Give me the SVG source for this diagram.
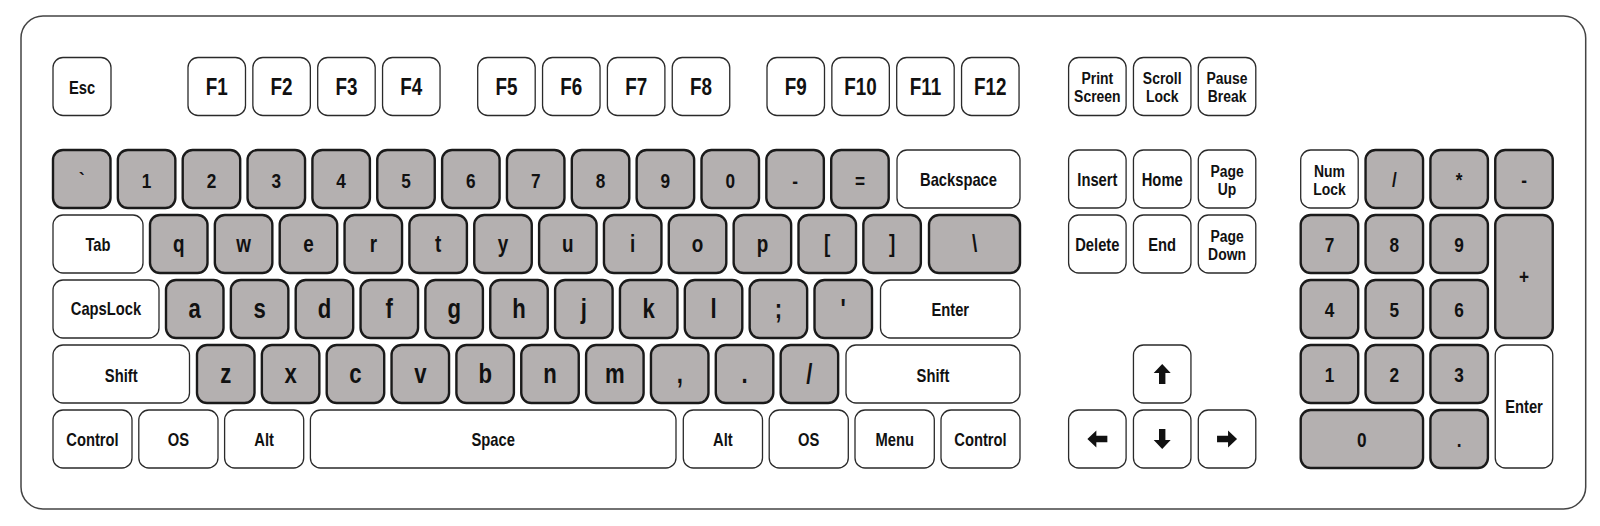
<svg xmlns="http://www.w3.org/2000/svg" width="1600" height="526" viewBox="0 0 1600 526">
<style>
.kw{fill:#fff;stroke:#2a2a2a;stroke-width:1.3}
.kg{fill:#b4b0b0;stroke:#1a1a1a;stroke-width:2.4}
text{font-family:"Liberation Sans Narrow","Liberation Sans",Arial,sans-serif;font-weight:bold;text-anchor:middle;fill:#111}
.w{font-size:18px}
.w2{font-size:17px}
.f{font-size:23px}
.d{font-size:21px}
.l{font-size:23px}
.L{font-size:27px}
.ar{fill:#111}
</style>
<defs>
<path id="arr" d="M0,-10 L8.5,-1 L3.2,-1 L3.2,10 L-3.2,10 L-3.2,-1 L-8.5,-1 Z"/>
</defs>
<rect id="case" x="21" y="16" width="1564.7" height="493" rx="22" fill="#fff" stroke="#444" stroke-width="1.5"/>
<g id="connectors"/>
<!-- Function row -->
<g id="k-esc"><rect class="kw" x="53" y="57.5" width="58" height="58" rx="10"/><text class="w" transform="matrix(.82 0 0 1 82 93.5)">Esc</text></g>
<g id="k-f1"><rect class="kw" x="188" y="57.5" width="57.5" height="58" rx="10"/><text class="f" transform="matrix(.82 0 0 1 216.75 94.8)">F1</text></g>
<g id="k-f2"><rect class="kw" x="252.85" y="57.5" width="57.5" height="58" rx="10"/><text class="f" transform="matrix(.82 0 0 1 281.6 94.8)">F2</text></g>
<g id="k-f3"><rect class="kw" x="317.7" y="57.5" width="57.5" height="58" rx="10"/><text class="f" transform="matrix(.82 0 0 1 346.45 94.8)">F3</text></g>
<g id="k-f4"><rect class="kw" x="382.55" y="57.5" width="57.5" height="58" rx="10"/><text class="f" transform="matrix(.82 0 0 1 411.3 94.8)">F4</text></g>
<g id="k-f5"><rect class="kw" x="477.7" y="57.5" width="57.5" height="58" rx="10"/><text class="f" transform="matrix(.82 0 0 1 506.45 94.8)">F5</text></g>
<g id="k-f6"><rect class="kw" x="542.55" y="57.5" width="57.5" height="58" rx="10"/><text class="f" transform="matrix(.82 0 0 1 571.3 94.8)">F6</text></g>
<g id="k-f7"><rect class="kw" x="607.4" y="57.5" width="57.5" height="58" rx="10"/><text class="f" transform="matrix(.82 0 0 1 636.15 94.8)">F7</text></g>
<g id="k-f8"><rect class="kw" x="672.25" y="57.5" width="57.5" height="58" rx="10"/><text class="f" transform="matrix(.82 0 0 1 701 94.8)">F8</text></g>
<g id="k-f9"><rect class="kw" x="767" y="57.5" width="57.5" height="58" rx="10"/><text class="f" transform="matrix(.82 0 0 1 795.75 94.8)">F9</text></g>
<g id="k-f10"><rect class="kw" x="831.85" y="57.5" width="57.5" height="58" rx="10"/><text class="f" transform="matrix(.82 0 0 1 860.6 94.8)">F10</text></g>
<g id="k-f11"><rect class="kw" x="896.7" y="57.5" width="57.5" height="58" rx="10"/><text class="f" transform="matrix(.82 0 0 1 925.45 94.8)">F11</text></g>
<g id="k-f12"><rect class="kw" x="961.55" y="57.5" width="57.5" height="58" rx="10"/><text class="f" transform="matrix(.82 0 0 1 990.3 94.8)">F12</text></g>
<!-- Number row -->
<g id="k-grave"><rect class="kg" x="53" y="150" width="57.5" height="58" rx="10"/><text class="d" transform="matrix(.82 0 0 1 81.75 187)">`</text></g>
<g id="k-1"><rect class="kg" x="117.85" y="150" width="57.5" height="58" rx="10"/><text class="d" transform="matrix(.82 0 0 1 146.6 187.5)">1</text></g>
<g id="k-2"><rect class="kg" x="182.7" y="150" width="57.5" height="58" rx="10"/><text class="d" transform="matrix(.82 0 0 1 211.45 187.5)">2</text></g>
<g id="k-3"><rect class="kg" x="247.55" y="150" width="57.5" height="58" rx="10"/><text class="d" transform="matrix(.82 0 0 1 276.3 187.5)">3</text></g>
<g id="k-4"><rect class="kg" x="312.4" y="150" width="57.5" height="58" rx="10"/><text class="d" transform="matrix(.82 0 0 1 341.15 187.5)">4</text></g>
<g id="k-5"><rect class="kg" x="377.25" y="150" width="57.5" height="58" rx="10"/><text class="d" transform="matrix(.82 0 0 1 406 187.5)">5</text></g>
<g id="k-6"><rect class="kg" x="442.1" y="150" width="57.5" height="58" rx="10"/><text class="d" transform="matrix(.82 0 0 1 470.85 187.5)">6</text></g>
<g id="k-7"><rect class="kg" x="506.95" y="150" width="57.5" height="58" rx="10"/><text class="d" transform="matrix(.82 0 0 1 535.7 187.5)">7</text></g>
<g id="k-8"><rect class="kg" x="571.8" y="150" width="57.5" height="58" rx="10"/><text class="d" transform="matrix(.82 0 0 1 600.55 187.5)">8</text></g>
<g id="k-9"><rect class="kg" x="636.65" y="150" width="57.5" height="58" rx="10"/><text class="d" transform="matrix(.82 0 0 1 665.4 187.5)">9</text></g>
<g id="k-0"><rect class="kg" x="701.5" y="150" width="57.5" height="58" rx="10"/><text class="d" transform="matrix(.82 0 0 1 730.25 187.5)">0</text></g>
<g id="k-minus"><rect class="kg" x="766.35" y="150" width="57.5" height="58" rx="10"/><text class="d" transform="matrix(.82 0 0 1 795.1 187.5)">-</text></g>
<g id="k-equal"><rect class="kg" x="831.2" y="150" width="57.5" height="58" rx="10"/><text class="d" transform="matrix(.82 0 0 1 859.95 187.5)">=</text></g>
<g id="k-backspace"><rect class="kw" x="897" y="150" width="123" height="58" rx="10"/><text class="w" transform="matrix(.82 0 0 1 958.5 186)">Backspace</text></g>
<!-- Tab row -->
<g id="k-tab"><rect class="kw" x="53" y="215" width="90" height="58" rx="10"/><text class="w" transform="matrix(.82 0 0 1 98 251)">Tab</text></g>
<g id="k-q"><rect class="kg" x="150" y="215" width="57.5" height="58" rx="10"/><text class="l" transform="matrix(.82 0 0 1 178.75 252.3)">q</text></g>
<g id="k-w"><rect class="kg" x="214.85" y="215" width="57.5" height="58" rx="10"/><text class="l" transform="matrix(.82 0 0 1 243.6 252.3)">w</text></g>
<g id="k-e"><rect class="kg" x="279.7" y="215" width="57.5" height="58" rx="10"/><text class="l" transform="matrix(.82 0 0 1 308.45 252.3)">e</text></g>
<g id="k-r"><rect class="kg" x="344.55" y="215" width="57.5" height="58" rx="10"/><text class="l" transform="matrix(.82 0 0 1 373.3 252.3)">r</text></g>
<g id="k-t"><rect class="kg" x="409.4" y="215" width="57.5" height="58" rx="10"/><text class="l" transform="matrix(.82 0 0 1 438.15 252.3)">t</text></g>
<g id="k-y"><rect class="kg" x="474.25" y="215" width="57.5" height="58" rx="10"/><text class="l" transform="matrix(.82 0 0 1 503 252.3)">y</text></g>
<g id="k-u"><rect class="kg" x="539.1" y="215" width="57.5" height="58" rx="10"/><text class="l" transform="matrix(.82 0 0 1 567.85 252.3)">u</text></g>
<g id="k-i"><rect class="kg" x="603.95" y="215" width="57.5" height="58" rx="10"/><text class="l" transform="matrix(.82 0 0 1 632.7 252.3)">i</text></g>
<g id="k-o"><rect class="kg" x="668.8" y="215" width="57.5" height="58" rx="10"/><text class="l" transform="matrix(.82 0 0 1 697.55 252.3)">o</text></g>
<g id="k-p"><rect class="kg" x="733.65" y="215" width="57.5" height="58" rx="10"/><text class="l" transform="matrix(.82 0 0 1 762.4 252.3)">p</text></g>
<g id="k-lbracket"><rect class="kg" x="798.5" y="215" width="57.5" height="58" rx="10"/><text class="l" transform="matrix(.82 0 0 1 827.25 252.3)">[</text></g>
<g id="k-rbracket"><rect class="kg" x="863.35" y="215" width="57.5" height="58" rx="10"/><text class="l" transform="matrix(.82 0 0 1 892.1 252.3)">]</text></g>
<g id="k-backslash"><rect class="kg" x="929" y="215" width="91" height="58" rx="10"/><text class="l" transform="matrix(.82 0 0 1 974.5 252.3)">\</text></g>
<!-- Caps row -->
<g id="k-capslock"><rect class="kw" x="53" y="280" width="106" height="58" rx="10"/><text class="w" transform="matrix(.82 0 0 1 106 315)">CapsLock</text></g>
<g id="k-a"><rect class="kg" x="166" y="280" width="57.5" height="58" rx="10"/><text class="L" transform="matrix(.82 0 0 1 194.75 318.3)">a</text></g>
<g id="k-s"><rect class="kg" x="230.85" y="280" width="57.5" height="58" rx="10"/><text class="L" transform="matrix(.82 0 0 1 259.6 318.3)">s</text></g>
<g id="k-d"><rect class="kg" x="295.7" y="280" width="57.5" height="58" rx="10"/><text class="L" transform="matrix(.82 0 0 1 324.45 318.3)">d</text></g>
<g id="k-f"><rect class="kg" x="360.55" y="280" width="57.5" height="58" rx="10"/><text class="L" transform="matrix(.82 0 0 1 389.3 318.3)">f</text></g>
<g id="k-g"><rect class="kg" x="425.4" y="280" width="57.5" height="58" rx="10"/><text class="L" transform="matrix(.82 0 0 1 454.15 318.3)">g</text></g>
<g id="k-h"><rect class="kg" x="490.25" y="280" width="57.5" height="58" rx="10"/><text class="L" transform="matrix(.82 0 0 1 519 318.3)">h</text></g>
<g id="k-j"><rect class="kg" x="555.1" y="280" width="57.5" height="58" rx="10"/><text class="L" transform="matrix(.82 0 0 1 583.85 318.3)">j</text></g>
<g id="k-k"><rect class="kg" x="619.95" y="280" width="57.5" height="58" rx="10"/><text class="L" transform="matrix(.82 0 0 1 648.7 318.3)">k</text></g>
<g id="k-l"><rect class="kg" x="684.8" y="280" width="57.5" height="58" rx="10"/><text class="L" transform="matrix(.82 0 0 1 713.55 318.3)">l</text></g>
<g id="k-semicolon"><rect class="kg" x="749.65" y="280" width="57.5" height="58" rx="10"/><text class="L" transform="matrix(.82 0 0 1 778.4 318.3)">;</text></g>
<g id="k-quote"><rect class="kg" x="814.5" y="280" width="57.5" height="58" rx="10"/><text class="L" transform="matrix(.82 0 0 1 843.25 318.3)">'</text></g>
<g id="k-enter"><rect class="kw" x="880.5" y="280" width="139.5" height="58" rx="10"/><text class="w" transform="matrix(.82 0 0 1 950.25 316)">Enter</text></g>
<!-- Shift row -->
<g id="k-lshift"><rect class="kw" x="53" y="345" width="136.5" height="58" rx="10"/><text class="w" transform="matrix(.82 0 0 1 121.25 381.5)">Shift</text></g>
<g id="k-z"><rect class="kg" x="197" y="345" width="57.5" height="58" rx="10"/><text class="L" transform="matrix(.82 0 0 1 225.75 382.7)">z</text></g>
<g id="k-x"><rect class="kg" x="261.85" y="345" width="57.5" height="58" rx="10"/><text class="L" transform="matrix(.82 0 0 1 290.6 382.7)">x</text></g>
<g id="k-c"><rect class="kg" x="326.7" y="345" width="57.5" height="58" rx="10"/><text class="L" transform="matrix(.82 0 0 1 355.45 382.7)">c</text></g>
<g id="k-v"><rect class="kg" x="391.55" y="345" width="57.5" height="58" rx="10"/><text class="L" transform="matrix(.82 0 0 1 420.3 382.7)">v</text></g>
<g id="k-b"><rect class="kg" x="456.4" y="345" width="57.5" height="58" rx="10"/><text class="L" transform="matrix(.82 0 0 1 485.15 382.7)">b</text></g>
<g id="k-n"><rect class="kg" x="521.25" y="345" width="57.5" height="58" rx="10"/><text class="L" transform="matrix(.82 0 0 1 550 382.7)">n</text></g>
<g id="k-m"><rect class="kg" x="586.1" y="345" width="57.5" height="58" rx="10"/><text class="L" transform="matrix(.82 0 0 1 614.85 382.7)">m</text></g>
<g id="k-comma"><rect class="kg" x="650.95" y="345" width="57.5" height="58" rx="10"/><text class="L" transform="matrix(.82 0 0 1 679.7 382.7)">,</text></g>
<g id="k-period"><rect class="kg" x="715.8" y="345" width="57.5" height="58" rx="10"/><text class="L" transform="matrix(.82 0 0 1 744.55 382.7)">.</text></g>
<g id="k-slash"><rect class="kg" x="780.65" y="345" width="57.5" height="58" rx="10"/><text class="L" transform="matrix(.82 0 0 1 809.4 382.7)">/</text></g>
<g id="k-rshift"><rect class="kw" x="846" y="345" width="174" height="58" rx="10"/><text class="w" transform="matrix(.82 0 0 1 933 381.5)">Shift</text></g>
<!-- Bottom row -->
<g id="k-lcontrol"><rect class="kw" x="53" y="410" width="79" height="58" rx="10"/><text class="w" transform="matrix(.82 0 0 1 92.5 446)">Control</text></g>
<g id="k-los"><rect class="kw" x="138.8" y="410" width="79.2" height="58" rx="10"/><text class="w" transform="matrix(.82 0 0 1 178.4 446)">OS</text></g>
<g id="k-lalt"><rect class="kw" x="224.6" y="410" width="79.1" height="58" rx="10"/><text class="w" transform="matrix(.82 0 0 1 264.15 446)">Alt</text></g>
<g id="k-space"><rect class="kw" x="310.4" y="410" width="365.6" height="58" rx="10"/><text class="w" transform="matrix(.82 0 0 1 493.2 446)">Space</text></g>
<g id="k-ralt"><rect class="kw" x="683.3" y="410" width="79.2" height="58" rx="10"/><text class="w" transform="matrix(.82 0 0 1 722.9 446)">Alt</text></g>
<g id="k-ros"><rect class="kw" x="769.2" y="410" width="79.1" height="58" rx="10"/><text class="w" transform="matrix(.82 0 0 1 808.75 446)">OS</text></g>
<g id="k-menu"><rect class="kw" x="855" y="410" width="79.3" height="58" rx="10"/><text class="w" transform="matrix(.82 0 0 1 894.65 446)">Menu</text></g>
<g id="k-rcontrol"><rect class="kw" x="941" y="410" width="79" height="58" rx="10"/><text class="w" transform="matrix(.82 0 0 1 980.5 446)">Control</text></g>
<!-- Navigation cluster -->
<g id="k-printscreen"><rect class="kw" x="1068.6" y="57.5" width="57.5" height="58" rx="10"/><text class="w2" transform="matrix(.82 0 0 1 1097.35 84.3)">Print</text><text class="w2" transform="matrix(.82 0 0 1 1097.35 102.3)">Screen</text></g>
<g id="k-scrolllock"><rect class="kw" x="1133.45" y="57.5" width="57.5" height="58" rx="10"/><text class="w2" transform="matrix(.82 0 0 1 1162.2 84.3)">Scroll</text><text class="w2" transform="matrix(.82 0 0 1 1162.2 102.3)">Lock</text></g>
<g id="k-pausebreak"><rect class="kw" x="1198.3" y="57.5" width="57.5" height="58" rx="10"/><text class="w2" transform="matrix(.82 0 0 1 1227.05 84.3)">Pause</text><text class="w2" transform="matrix(.82 0 0 1 1227.05 102.3)">Break</text></g>
<g id="k-insert"><rect class="kw" x="1068.6" y="150" width="57.5" height="58" rx="10"/><text class="w" transform="matrix(.82 0 0 1 1097.35 186)">Insert</text></g>
<g id="k-home"><rect class="kw" x="1133.45" y="150" width="57.5" height="58" rx="10"/><text class="w" transform="matrix(.82 0 0 1 1162.2 186)">Home</text></g>
<g id="k-pageup"><rect class="kw" x="1198.3" y="150" width="57.5" height="58" rx="10"/><text class="w2" transform="matrix(.82 0 0 1 1227.05 176.8)">Page</text><text class="w2" transform="matrix(.82 0 0 1 1227.05 194.8)">Up</text></g>
<g id="k-delete"><rect class="kw" x="1068.6" y="215" width="57.5" height="58" rx="10"/><text class="w" transform="matrix(.82 0 0 1 1097.35 251)">Delete</text></g>
<g id="k-end"><rect class="kw" x="1133.45" y="215" width="57.5" height="58" rx="10"/><text class="w" transform="matrix(.82 0 0 1 1162.2 251)">End</text></g>
<g id="k-pagedown"><rect class="kw" x="1198.3" y="215" width="57.5" height="58" rx="10"/><text class="w2" transform="matrix(.82 0 0 1 1227.05 241.8)">Page</text><text class="w2" transform="matrix(.82 0 0 1 1227.05 259.8)">Down</text></g>
<g id="k-up"><rect class="kw" x="1133.45" y="345" width="57.5" height="58" rx="10"/><use href="#arr" class="ar" transform="translate(1162.2,374)"/></g>
<g id="k-left"><rect class="kw" x="1068.6" y="410" width="57.5" height="58" rx="10"/><use href="#arr" class="ar" transform="translate(1097.35,439) rotate(-90)"/></g>
<g id="k-down"><rect class="kw" x="1133.45" y="410" width="57.5" height="58" rx="10"/><use href="#arr" class="ar" transform="translate(1162.2,439) rotate(180)"/></g>
<g id="k-right"><rect class="kw" x="1198.3" y="410" width="57.5" height="58" rx="10"/><use href="#arr" class="ar" transform="translate(1227.05,439) rotate(90)"/></g>
<!-- Numeric keypad -->
<g id="k-numlock"><rect class="kw" x="1300.7" y="150" width="57.5" height="58" rx="10"/><text class="w2" transform="matrix(.82 0 0 1 1329.45 176.8)">Num</text><text class="w2" transform="matrix(.82 0 0 1 1329.45 194.8)">Lock</text></g>
<g id="k-np-divide"><rect class="kg" x="1365.55" y="150" width="57.5" height="58" rx="10"/><text class="d" transform="matrix(.82 0 0 1 1394.3 187)">/</text></g>
<g id="k-np-multiply"><rect class="kg" x="1430.4" y="150" width="57.5" height="58" rx="10"/><text class="d" transform="matrix(.82 0 0 1 1459.15 187)">*</text></g>
<g id="k-np-minus"><rect class="kg" x="1495.25" y="150" width="57.5" height="58" rx="10"/><text class="d" transform="matrix(.82 0 0 1 1524 187)">-</text></g>
<g id="k-np7"><rect class="kg" x="1300.7" y="215" width="57.5" height="58" rx="10"/><text class="d" transform="matrix(.82 0 0 1 1329.45 251.5)">7</text></g>
<g id="k-np8"><rect class="kg" x="1365.55" y="215" width="57.5" height="58" rx="10"/><text class="d" transform="matrix(.82 0 0 1 1394.3 251.5)">8</text></g>
<g id="k-np9"><rect class="kg" x="1430.4" y="215" width="57.5" height="58" rx="10"/><text class="d" transform="matrix(.82 0 0 1 1459.15 251.5)">9</text></g>
<g id="k-np-plus"><rect class="kg" x="1495.25" y="215" width="57.5" height="123" rx="10"/><text class="d" transform="matrix(.82 0 0 1 1524 284)">+</text></g>
<g id="k-np4"><rect class="kg" x="1300.7" y="280" width="57.5" height="58" rx="10"/><text class="d" transform="matrix(.82 0 0 1 1329.45 316.5)">4</text></g>
<g id="k-np5"><rect class="kg" x="1365.55" y="280" width="57.5" height="58" rx="10"/><text class="d" transform="matrix(.82 0 0 1 1394.3 316.5)">5</text></g>
<g id="k-np6"><rect class="kg" x="1430.4" y="280" width="57.5" height="58" rx="10"/><text class="d" transform="matrix(.82 0 0 1 1459.15 316.5)">6</text></g>
<g id="k-np1"><rect class="kg" x="1300.7" y="345" width="57.5" height="58" rx="10"/><text class="d" transform="matrix(.82 0 0 1 1329.45 381.5)">1</text></g>
<g id="k-np2"><rect class="kg" x="1365.55" y="345" width="57.5" height="58" rx="10"/><text class="d" transform="matrix(.82 0 0 1 1394.3 381.5)">2</text></g>
<g id="k-np3"><rect class="kg" x="1430.4" y="345" width="57.5" height="58" rx="10"/><text class="d" transform="matrix(.82 0 0 1 1459.15 381.5)">3</text></g>
<g id="k-np-enter"><rect class="kw" x="1495.25" y="345" width="57.5" height="123" rx="10"/><text class="w" transform="matrix(.82 0 0 1 1524 413)">Enter</text></g>
<g id="k-np0"><rect class="kg" x="1300.7" y="410" width="122.35" height="58" rx="10"/><text class="d" transform="matrix(.82 0 0 1 1361.9 446.5)">0</text></g>
<g id="k-np-decimal"><rect class="kg" x="1430.4" y="410" width="57.5" height="58" rx="10"/><text class="d" transform="matrix(.82 0 0 1 1459.15 446.5)">.</text></g>
</svg>
